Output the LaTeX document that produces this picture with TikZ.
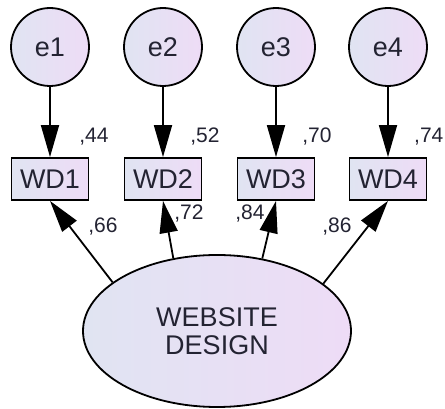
\documentclass[tikz,border=0pt]{standalone}
\usepackage{fontspec}
\setmainfont{Liberation Sans}
\usetikzlibrary{arrows.meta, positioning, shapes.geometric}

\begin{document}
\begin{tikzpicture}[x=1pt, y=1pt, font=\fontsize{27}{30}\selectfont]
  % Define colors for the node fill
  \definecolor{amosleft}{RGB}{224, 228, 242}
  \definecolor{amosright}{RGB}{238, 220, 246}
  \definecolor{amostext}{RGB}{35, 35, 50}

  % Styles
  \tikzset{
    errnode/.style={circle, draw, line width=1.8pt, minimum size=78pt, inner sep=0pt,
      left color=amosleft, right color=amosright, text=amostext},
    obsnode/.style={rectangle, draw, line width=1.8pt, minimum width=77pt, minimum height=42pt,
      inner sep=0pt, left color=amosleft, right color=amosright, text=amostext},
    latnode/.style={ellipse, draw, line width=1.8pt, minimum width=268pt, minimum height=152pt,
      inner sep=0pt, align=center, left color=amosleft, right color=amosright, text=amostext},
    path/.style={line width=1.8pt, -{Triangle[length=32pt, width=18pt]}},
    coef/.style={font=\fontsize{21}{23}\selectfont, inner sep=0pt, text=amostext}
  }

  % Fix the page size
  \useasboundingbox (0,0) rectangle (445,409);

  % Latent factor
  \node[latnode] (ws) at (217,78) {WEBSITE\\[-2pt]DESIGN};

  % Items and error terms
  \foreach \i/\x in {1/50, 2/163, 3/276, 4/388} {
    \node[errnode] (e\i) at (\x,362) {e\i};
    \node[obsnode] (wd\i) at (\x,230) {WD\i};
    \draw[path] (e\i) -- (wd\i);
  }

  % Loadings
  \draw[path] (ws.155) -- (wd1.south);
  \draw[path] (ws.121) -- (wd2.south);
  \draw[path] (ws.58) -- (wd3.south);
  \draw[path] (ws.24) -- (wd4.south);

  % Squared multiple correlations
  \node[coef] (r1) at (94,272) {,44};
  \node[coef] (r2) at (205,272) {,52};
  \node[coef] (r3) at (317,272) {,70};
  \node[coef, anchor=west] (r4) at (414,272) {,74};

  % Standardized loadings
  \node[coef] (l1) at (103,182) {,66};
  \node[coef] (l2) at (189,195) {,72};
  \node[coef] (l3) at (250,195) {,84};
  \node[coef] (l4) at (337,182) {,86};
\end{tikzpicture}
\end{document}
